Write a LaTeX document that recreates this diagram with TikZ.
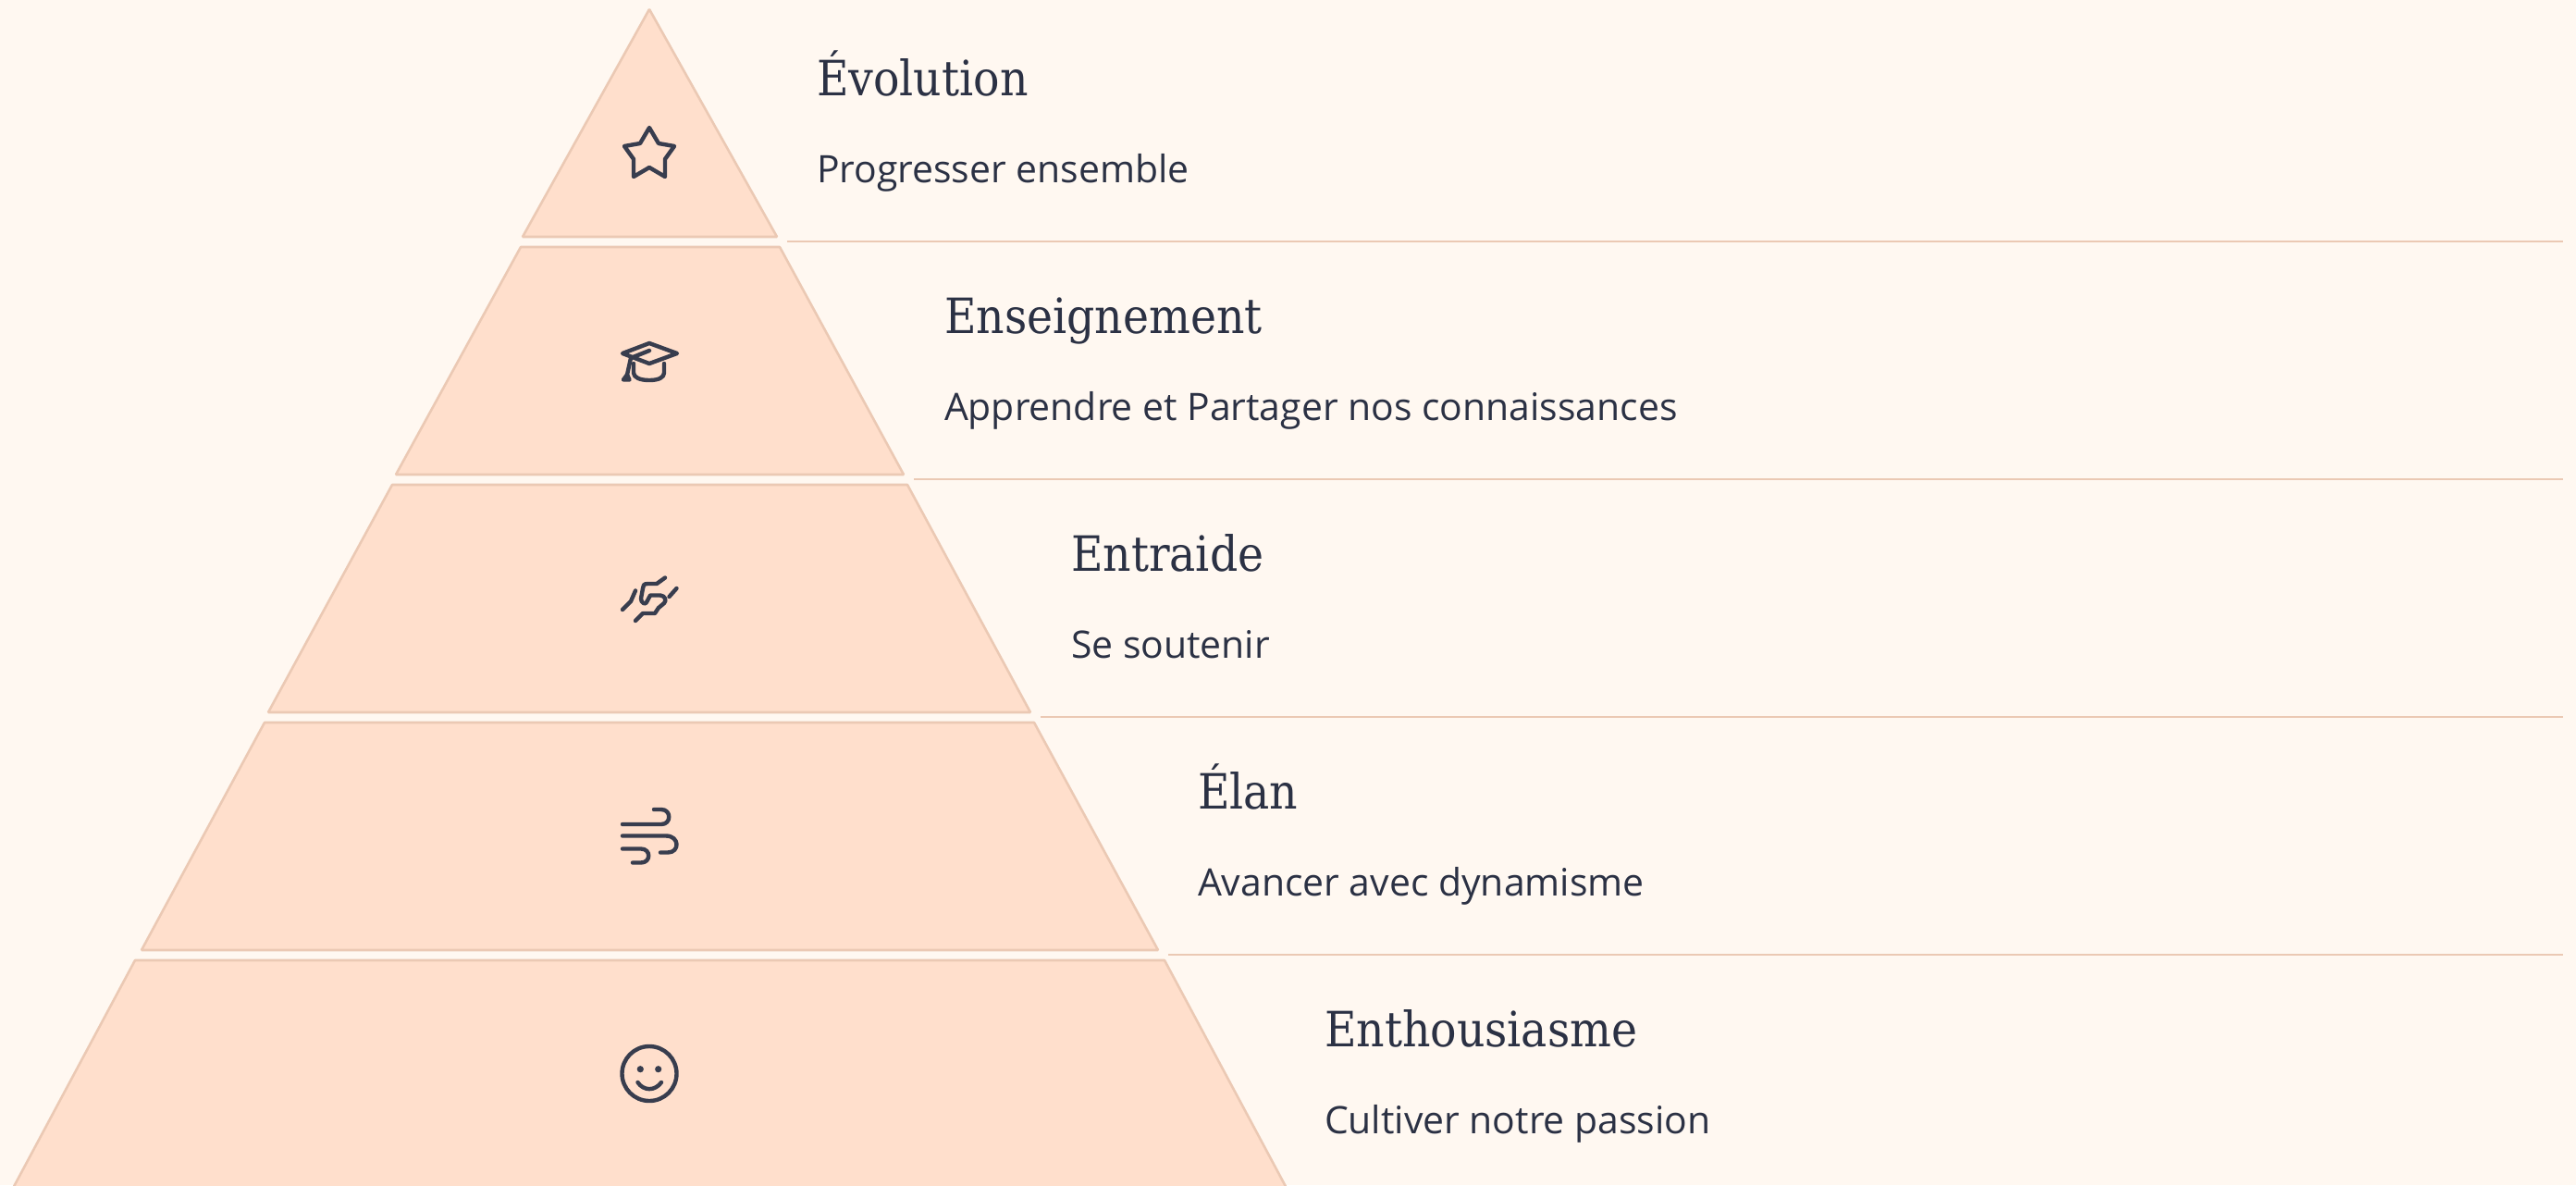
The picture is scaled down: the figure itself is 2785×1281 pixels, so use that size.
\documentclass[tikz,border=0pt]{standalone}
\usepackage{fontspec}
\setmainfont{Open Sans}
\newfontfamily\titlefont{DejaVu Serif Condensed}
\definecolor{pagebg}{HTML}{FFF8F1}
\definecolor{tierfill}{HTML}{FFDFCC}
\definecolor{tierline}{HTML}{EBC9B4}
\definecolor{ink}{HTML}{2B3144}
\definecolor{iconink}{HTML}{383D4E}
\tikzset{
  tier/.style={fill=tierfill,draw=tierline,line width=1.3pt,line join=bevel},
  rule/.style={draw=tierline,line width=1.3pt},
  icon/.style={draw=iconink,line width=2.2pt,line cap=round,line join=round},
  title/.style={anchor=base west,inner sep=0pt,text=ink,font=\titlefont\fontsize{26.3}{30}\selectfont},
  sub/.style={anchor=base west,inner sep=0pt,text=ink,font=\fontsize{20.45}{24}\selectfont},
}
\begin{document}
\begin{tikzpicture}[x=0.5pt,y=-0.5pt,line width=1pt]
\useasboundingbox (0,0) rectangle (2785,1281);
\fill[pagebg] (0,0) rectangle (2785,1281);
\begin{scope}
\clip (0,0) rectangle (2785,1281);
\draw[tier] (702,10) -- (840,256) -- (565,256) -- cycle;
\draw[tier] (563,267) -- (843,267) -- (977,513) -- (428,513) -- cycle;
\draw[tier] (424,524) -- (981,524) -- (1114,770) -- (290,770) -- cycle;
\draw[tier] (286,781) -- (1118,781) -- (1252,1027) -- (153,1027) -- cycle;
\draw[tier] (146,1038) -- (1259,1038) -- (1394,1290) -- (11,1290) -- cycle;
\end{scope}
\coordinate (r1a) at (851,261); \coordinate (r1b) at (2771,261);
\coordinate (r2a) at (988,518); \coordinate (r2b) at (2771,518);
\coordinate (r3a) at (1125,775); \coordinate (r3b) at (2771,775);
\coordinate (r4a) at (1263,1032); \coordinate (r4b) at (2771,1032);
\draw[rule] (r1a) -- (r1b);
\draw[rule] (r2a) -- (r2b);
\draw[rule] (r3a) -- (r3b);
\draw[rule] (r4a) -- (r4b);
% star
\draw[icon] (702,138) -- (712,155) -- (729,158) -- (719,172) -- (719,191) -- (702,181) -- (685,191) -- (685,172) -- (675,158) -- (692,155) -- cycle;
% cap
\draw[icon] (702,371) -- (732,382) -- (702,393) -- (673,382) -- cycle;
\draw[icon] (685,393) -- (685,403) .. controls (685,408) and (692,411) .. (702,411) .. controls (712,411) and (718,408) .. (718,403) -- (718,393);
\draw[icon] (702,379) -- (682,387) -- (678,405);
\draw[icon,fill=iconink] (678,405) -- (674,410.5) -- (680.5,410.5) -- cycle;
% hands
\draw[icon] (687,638.5) -- (682,650) -- (673,659);
\draw[icon] (731.5,636) -- (723.5,645);
\draw[icon] (719,624.5) -- (710,631) -- (700,631) .. controls (696,631) and (695,633) .. (695,636) -- (693,647) .. controls (693,652) and (698,654) .. (699,651) -- (703,643.5) -- (714,643.5) .. controls (719,644) and (721,649) .. (718,652) -- (712,657) -- (708,663) -- (695,663) -- (687,671);
% wind
\draw[icon] (673,891) -- (715,891) .. controls (726,891) and (726,875) .. (715,875) -- (707,875);
\draw[icon] (673,903.5) -- (720,903.5) .. controls (735,903.5) and (735,921.5) .. (722,921.5) -- (714,921.5);
\draw[icon] (673,917.5) -- (693,917.5) .. controls (704,917.5) and (704,932.5) .. (693,932.5) -- (684,932.5);
% smile
\draw[icon] (702,1160.5) circle[x radius=29.5,y radius=29.5];
\fill[iconink] (692.3,1155.7) circle[x radius=3.6,y radius=3.6];
\fill[iconink] (711.7,1155.7) circle[x radius=3.6,y radius=3.6];
\draw[icon] (689.5,1170) .. controls (696,1179.5) and (708,1179.5) .. (715,1170);
% text
\node[title] (t1) at (882,103) {Évolution};
\node[sub] (s1) at (882,197) {Progresser ensemble};
\node[title] (t2) at (1020,360) {Enseignement};
\node[sub] (s2) at (1020,454) {Apprendre et Partager nos connaissances};
\node[title] (t3) at (1157,617) {Entraide};
\node[sub] (s3) at (1157,711) {Se soutenir};
\node[title] (t4) at (1294,874) {Élan};
\node[sub] (s4) at (1294,968) {Avancer avec dynamisme};
\node[title] (t5) at (1431,1131) {Enthousiasme};
\node[sub] (s5) at (1431,1225) {Cultiver notre passion};
\end{tikzpicture}
\end{document}
